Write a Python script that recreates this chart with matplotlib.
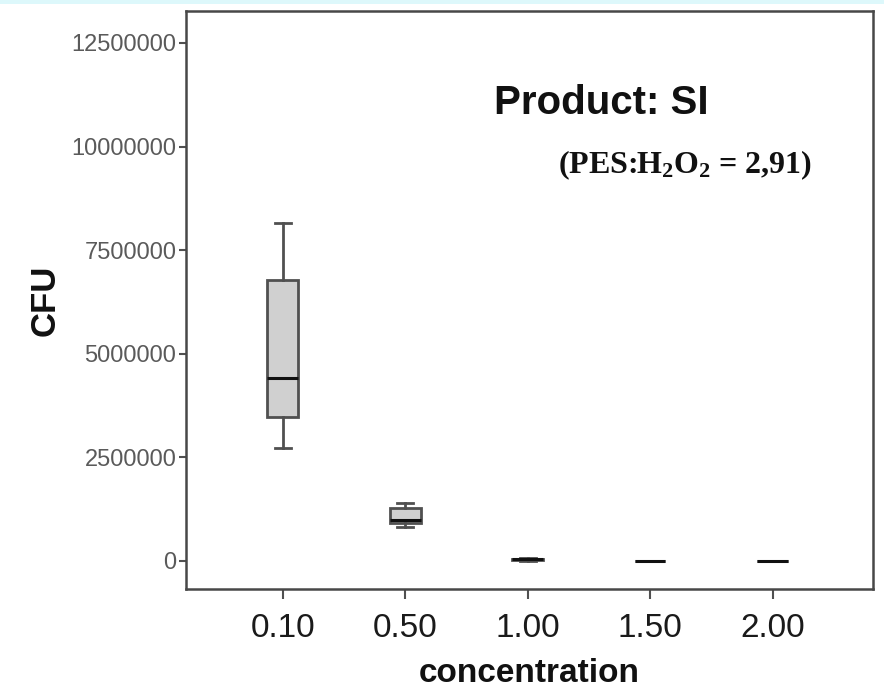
import matplotlib
matplotlib.use("Agg")
import matplotlib.pyplot as plt
from matplotlib.patches import Rectangle

# ---- data ----
categories = ["0.10", "0.50", "1.00", "1.50", "2.00"]
whisker_low = [2730000, 820000, 0, 0, 0]
q1_values = [3470000, 920000, 20000, 0, 0]
medians = [4420000, 990000, 40000, 0, 0]
q3_values = [6780000, 1280000, 50000, 0, 0]
whisker_high = [8150000, 1400000, 60000, 0, 0]
yticks = [0, 2500000, 5000000, 7500000, 10000000, 12500000]
title_text = "Product: SI"
ratio_text = r"(PES:H$_\mathbf{2}$O$_\mathbf{2}$ = 2,91)"

plt.rcParams["font.family"] = ["Liberation Sans", "DejaVu Sans"]
plt.rcParams["mathtext.fontset"] = "custom"
plt.rcParams["mathtext.rm"] = "Liberation Serif:bold"
plt.rcParams["mathtext.bf"] = "Liberation Serif:bold"
plt.rcParams["mathtext.it"] = "Liberation Serif:bold"

fig = plt.figure(figsize=(8.84, 6.92), dpi=100)
fig.patches.append(Rectangle((0, 1 - 4 / 692), 1, 4 / 692, transform=fig.transFigure,
                             facecolor="#ddf8fb", edgecolor="none", zorder=0))
ax = fig.add_axes([186 / 884, (692 - 589) / 692, 687 / 884, 578 / 692])

stats = []
for i, lab in enumerate(categories):
    stats.append(dict(label=lab, whislo=whisker_low[i], q1=q1_values[i], med=medians[i],
                      q3=q3_values[i], whishi=whisker_high[i], fliers=[]))

positions = list(range(len(categories)))
ax.bxp(stats, positions=positions, widths=0.25, capwidths=0.13, patch_artist=True,
       showfliers=False,
       boxprops=dict(facecolor="#d0d0d0", edgecolor="#505050", linewidth=2),
       medianprops=dict(color="#111111", linewidth=2.2),
       whiskerprops=dict(color="#505050", linewidth=2),
       capprops=dict(color="#505050", linewidth=2))

ax.set_xlim(-0.79, 4.82)
ax.set_ylim(-676000, 13270000)
ax.set_xticks(positions)
ax.set_xticklabels(categories, fontsize=24, color="#1a1a1a")
ax.set_yticks(yticks)
ax.set_yticklabels([str(v) for v in yticks], fontsize=17, color="#5a5a5a")
ax.tick_params(axis="y", length=5, width=1.5, color="#505050", pad=2)
ax.tick_params(axis="x", length=7.5, width=1.5, color="#505050", pad=10)

for sp in ax.spines.values():
    sp.set_color("#484848")
    sp.set_linewidth(1.8)

ax.set_ylabel("CFU", fontsize=25, fontweight="bold", color="#111111")
ax.yaxis.label.set_verticalalignment("center")
ax.yaxis.set_label_coords((45 - 186) / 687, (589 - 300) / 578)
ax.set_xlabel("concentration", fontsize=24, fontweight="bold", color="#111111")
ax.xaxis.label.set_verticalalignment("center")
ax.xaxis.set_label_coords(0.5, (589 - 673) / 578)

ax.text((601 - 186) / 687, (589 - 103) / 578, title_text, transform=ax.transAxes,
        ha="center", va="center", fontsize=29, fontweight="bold", color="#111111")
ax.text((685 - 186) / 687, (589 - 165) / 578, ratio_text, transform=ax.transAxes,
        ha="center", va="center", fontsize=23, fontweight="bold", color="#111111",
        family="Liberation Serif")

fig.savefig("out.png", dpi=100)
